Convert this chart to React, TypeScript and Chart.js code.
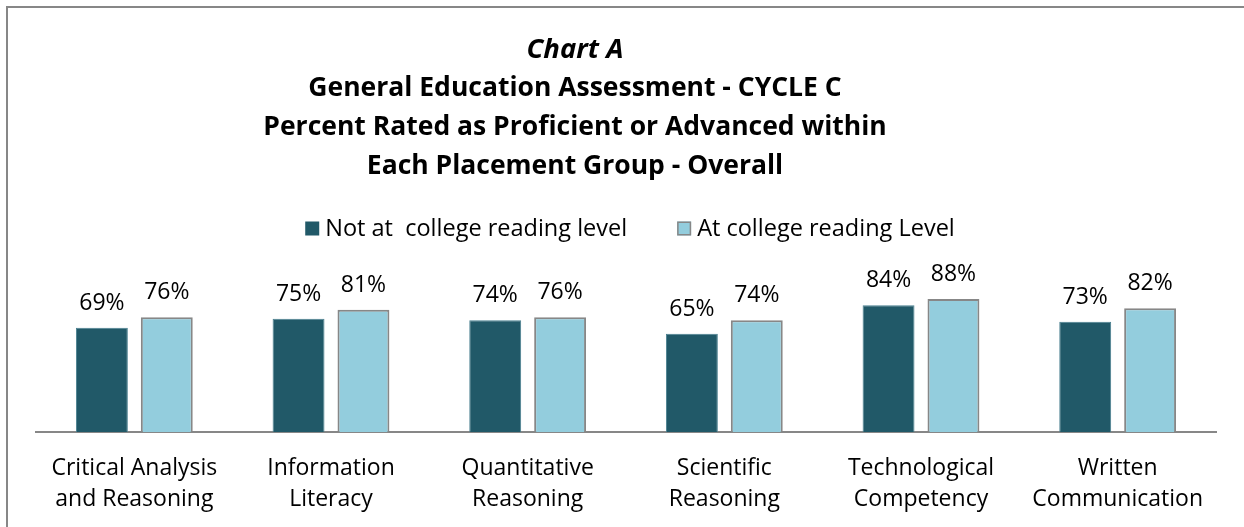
import React, { useEffect, useRef } from "react";
import { Chart, registerables } from "chart.js";

Chart.register(...registerables);

const categories: string[][] = [
  ["Critical Analysis", "and Reasoning"],
  ["Information", "Literacy"],
  ["Quantitative", "Reasoning"],
  ["Scientific", "Reasoning"],
  ["Technological", "Competency"],
  ["Written", "Communication"],
];
const notAtCollegeLevel = [69, 75, 74, 65, 84, 73];
const atCollegeLevel = [76, 81, 76, 74, 88, 82];
const seriesNames = ["Not at  college reading level", "At college reading Level"];
const chartTitle = "Chart A";
const chartSubtitle = [
  "General Education Assessment - CYCLE C",
  "Percent Rated as Proficient or Advanced within",
  "Each Placement Group - Overall",
];

const FONT = "'Open Sans', sans-serif";
const DARK = "#215968";
const LIGHT = "#93CDDD";
const GRAY = "#878787";

const headerPlugin = {
  id: "header",
  afterDraw(chart: any) {
    const ctx = chart.ctx as CanvasRenderingContext2D;
    ctx.save();
    ctx.fillStyle = "#000";
    ctx.textAlign = "center";
    ctx.textBaseline = "alphabetic";
    const cx = 575;
    ctx.font = `italic bold 27.5px ${FONT}`;
    ctx.fillText(chartTitle, cx, 57.5);
    ctx.font = `bold 26.5px ${FONT}`;
    chartSubtitle.forEach((line, i) => ctx.fillText(line, cx, 96 + i * 39));

    // legend
    ctx.font = `23.5px ${FONT}`;
    ctx.textAlign = "left";
    const ds = chart.data.datasets;
    const box = 14;
    const gapText = 6;
    const gapItem = 50;
    const widths = ds.map((d: any) => box + gapText + ctx.measureText(d.label).width);
    const total = widths.reduce((a: number, b: number) => a + b, 0) + gapItem * (ds.length - 1);
    const area = chart.chartArea;
    let x = (area.left + area.right) / 2 + 4 - total / 2;
    const baseline = 235.5;
    ds.forEach((d: any, i: number) => {
      ctx.fillStyle = d.backgroundColor;
      ctx.fillRect(x, baseline - box, box, box);
      if (d.borderWidth > 1) {
        ctx.strokeStyle = d.borderColor;
        ctx.lineWidth = 1.5;
        ctx.strokeRect(x + 0.75, baseline - box + 0.75, box - 1.5, box - 1.5);
      }
      ctx.fillStyle = "#000";
      ctx.fillText(d.label, x + box + gapText, baseline);
      x += widths[i] + gapItem;
    });
    ctx.restore();
  },
};

const dataLabelPlugin = {
  id: "dataLabels",
  afterDatasetsDraw(chart: any) {
    const ctx = chart.ctx as CanvasRenderingContext2D;
    ctx.save();
    ctx.font = `23px ${FONT}`;
    ctx.fillStyle = "#000";
    ctx.textAlign = "center";
    ctx.textBaseline = "alphabetic";
    chart.data.datasets.forEach((d: any, i: number) => {
      const meta = chart.getDatasetMeta(i);
      meta.data.forEach((bar: any, j: number) => {
        ctx.fillText(`${d.data[j]}%`, bar.x, bar.y - 18);
      });
    });
    ctx.restore();
  },
};

export default function App() {
  const ref = useRef<HTMLCanvasElement | null>(null);
  useEffect(() => {
    if (!ref.current) return;
    const chart = new Chart(ref.current, {
      type: "bar",
      data: {
        labels: categories,
        datasets: [
          {
            label: seriesNames[0],
            data: notAtCollegeLevel,
            backgroundColor: DARK,
            borderColor: "#4a8090",
            borderWidth: 1,
          },
          {
            label: seriesNames[1],
            data: atCollegeLevel,
            backgroundColor: LIGHT,
            borderColor: GRAY,
            borderWidth: 2,
          },
        ],
      },
      options: {
        responsive: false,
        animation: false,
        layout: { padding: { top: 281, left: 36, right: 28, bottom: 0 } },
        plugins: {
          legend: { display: false },
          title: { display: false },
          tooltip: { enabled: false },
        },
        datasets: {
          bar: { categoryPercentage: 0.66, barPercentage: 0.8 },
        },
        scales: {
          x: {
            grid: { display: false, drawTicks: false },
            border: { display: true, color: GRAY, width: 2 },
            ticks: {
              color: "#000",
              padding: 21,
              maxRotation: 0,
              autoSkip: false,
              font: { family: FONT, size: 23, lineHeight: 31 / 23 },
            },
            afterFit(scale: any) {
              scale.height = 95;
            },
          },
          y: { display: false, min: 0, max: 100 },
        },
      },
      plugins: [headerPlugin, dataLabelPlugin],
    });
    return () => chart.destroy();
  }, []);
  return (
    <div style={{ position: "fixed", left: 0, top: 0, width: 1244, height: 527, background: "#fff" }}>
      <canvas ref={ref} width={1244} height={527} style={{ position: "absolute", left: 0, top: 0 }} />
      <div
        style={{
          position: "absolute",
          left: 6,
          top: 6,
          width: 1300,
          height: 600,
          borderLeft: `2px solid ${GRAY}`,
          borderTop: `2px solid ${GRAY}`,
          pointerEvents: "none",
        }}
      />
    </div>
  );
}
